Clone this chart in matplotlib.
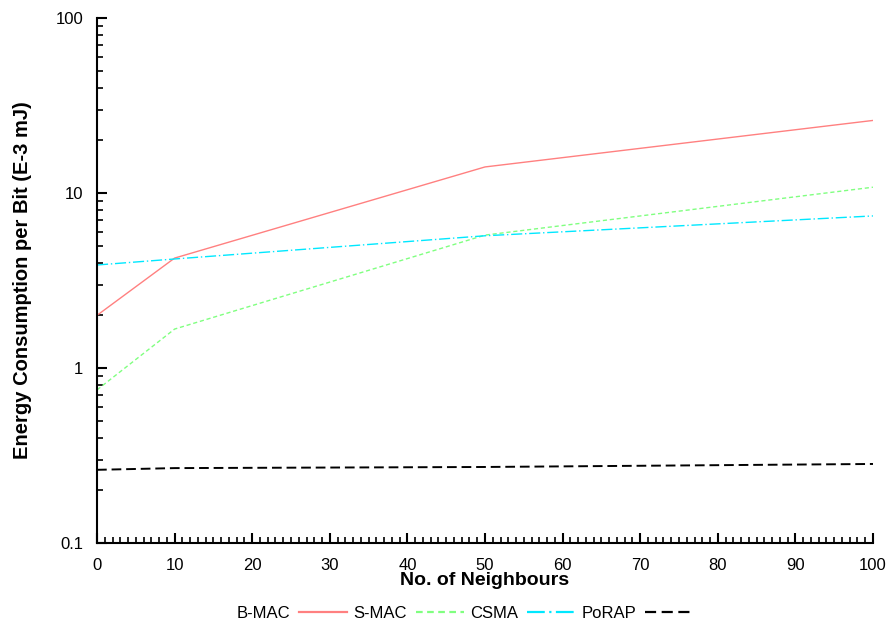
import matplotlib
matplotlib.use("Agg")
import matplotlib.pyplot as plt
from matplotlib.ticker import FixedLocator, FixedFormatter, LogLocator, MultipleLocator, NullFormatter

plt.rcParams['font.family'] = ['Liberation Sans', 'DejaVu Sans']

neighbours = [0, 10, 50, 100]
bmac = [2.0, 4.25, 14.1, 26.0]
smac = [0.75, 1.67, 5.75, 10.8]
csma = [3.88, 4.2, 5.7, 7.4]
porap = [0.262, 0.268, 0.272, 0.283]

series = [
    ("B-MAC", bmac, dict(color="#ff8080", ls="-", lw=1.0)),
    ("S-MAC", smac, dict(color="#80ff80", ls=(0, (3, 2)), lw=1.0)),
    ("CSMA", csma, dict(color="#00e8ff", ls=(0, (8, 2, 1, 2)), lw=1.0)),
    ("PoRAP", porap, dict(color="black", ls=(0, (5, 2.5)), lw=1.4)),
]

fig = plt.figure(figsize=(8.94, 6.34), dpi=100)
ax = fig.add_axes([0.1085, 0.1435, 0.868, 0.828])

for name, vals, style in series:
    ax.plot(neighbours, vals, label=name, **style)

ax.set_yscale("log")
ax.set_xlim(0, 100)
ax.set_ylim(0.1, 100)

ax.xaxis.set_major_locator(MultipleLocator(10))
ax.xaxis.set_minor_locator(MultipleLocator(1))
ax.yaxis.set_major_locator(FixedLocator([0.1, 1, 10, 100]))
ax.yaxis.set_major_formatter(FixedFormatter(["0.1", "1", "10", "100"]))
ax.yaxis.set_minor_locator(LogLocator(base=10, subs=range(2, 10)))
ax.yaxis.set_minor_formatter(NullFormatter())

for side in ("top", "right"):
    ax.spines[side].set_visible(False)
for side in ("left", "bottom"):
    ax.spines[side].set_linewidth(1.5)

ax.tick_params(which="major", direction="in", length=7, width=1.5, labelsize=12)
ax.tick_params(axis="x", which="major", pad=11)
ax.tick_params(axis="y", which="major", pad=10)
ax.tick_params(which="minor", direction="in", length=4, width=1.2)

ax.set_xlabel("No. of Neighbours", fontsize=14, fontweight="bold", labelpad=-1)
ax.set_ylabel("Energy Consumption per Bit (E-3 mJ)", fontsize=14.5, fontweight="bold", labelpad=17)

leg = ax.legend(loc="upper center", bbox_to_anchor=(0.474, -0.092), ncol=4, frameon=False,
                markerfirst=False, fontsize=12, handlelength=2.9, columnspacing=0.35,
                handletextpad=0.55)
for line in leg.get_lines():
    line.set_linewidth(1.6)

fig.savefig("out.png", dpi=100)
